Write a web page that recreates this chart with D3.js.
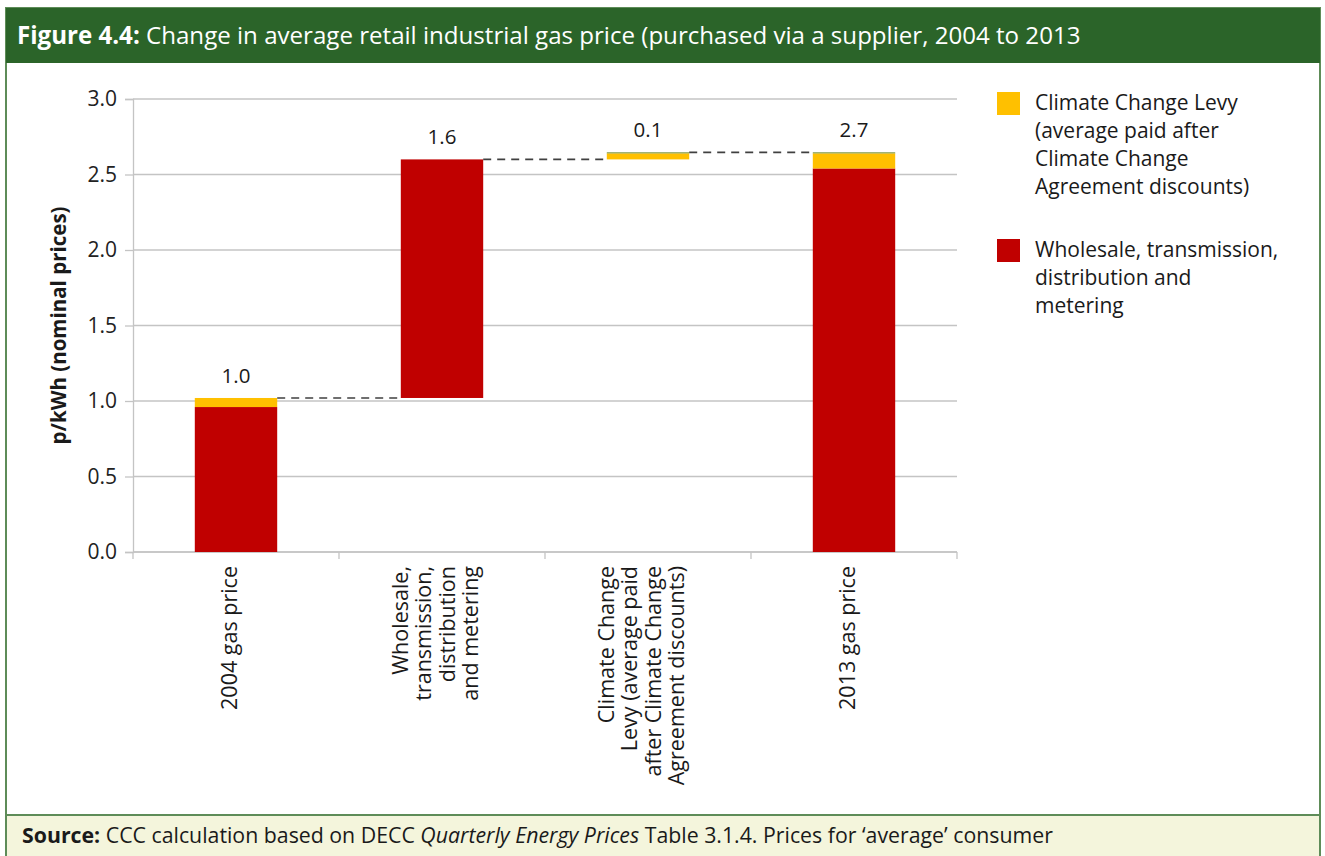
<!DOCTYPE html>
<html>
<head>
<meta charset="utf-8">
<script src="https://cdn.jsdelivr.net/npm/d3@7"></script>
<style>
  body { margin: 0; background: #fff; }
  svg { display: block; font-family: "Open Sans", "Noto Sans", sans-serif; }
</style>
</head>
<body>
<div class="chart"></div>
<script>
// 数据
var categories = ['2004 gas price', 'Wholesale, transmission, distribution and metering',
  'Climate Change Levy (average paid after Climate Change Agreement discounts)', '2013 gas price'];
var categoryLines = [
  ['2004 gas price'],
  ['Wholesale,', 'transmission,', 'distribution', 'and metering'],
  ['Climate Change', 'Levy (average paid', 'after Climate Change', 'Agreement discounts)'],
  ['2013 gas price']
];
var baseValues = [0, 1.02, 2.60, 0];        // invisible waterfall base
var wholesaleValues = [0.96, 1.58, 0, 2.54];
var levyValues = [0.06, 0, 0.04, 0.10];
var otherValues = [0, 0, 0.007, 0.007];     // thin green sliver on top
var barLabels = ['1.0', '1.6', '0.1', '2.7'];
var yTicks = [0, 0.5, 1.0, 1.5, 2.0, 2.5, 3.0];
var legendItems = [
  { name: 'levy', color: '#ffc000', lines: ['Climate Change Levy', '(average paid after', 'Climate Change', 'Agreement discounts)'] },
  { name: 'wholesale', color: '#c00000', lines: ['Wholesale, transmission,', 'distribution and', 'metering'] }
];

var width = 1325, height = 856;
var plotLeft = 133, plotRight = 957, plotTop = 99, plotBottom = 552;

var svg = d3.select('.chart').append('svg').attr('width', width).attr('height', height);

// 外框 + 标题栏
svg.append('rect').attr('x', 6).attr('y', 8).attr('width', 1314).attr('height', 850)
  .attr('fill', '#fff').attr('stroke', '#5e8c58').attr('stroke-width', 2);
svg.append('rect').attr('x', 6).attr('y', 8).attr('width', 1314).attr('height', 55).attr('fill', '#2b6429');
var title = svg.append('text').attr('x', 17).attr('y', 44).attr('fill', '#fff').attr('font-size', 24.1);
title.append('tspan').attr('font-weight', 'bold').text('Figure 4.4:');
title.append('tspan').text(' Change in average retail industrial gas price (purchased via a supplier, 2004 to 2013');

// 底部来源栏
svg.append('rect').attr('x', 6).attr('y', 815).attr('width', 1314).attr('height', 45)
  .attr('fill', '#f4f5dc').attr('stroke', '#5e8c58').attr('stroke-width', 2);
var src = svg.append('text').attr('x', 22).attr('y', 843).attr('fill', '#1a1a1a').attr('font-size', 21.3);
src.append('tspan').attr('font-weight', 'bold').text('Source:');
src.append('tspan').text(' CCC calculation based on DECC ');
src.append('tspan').attr('font-style', 'italic').text('Quarterly Energy Prices');
src.append('tspan').text(' Table 3.1.4. Prices for \u2018average\u2019 consumer');

// 比例尺
var x = d3.scaleBand().domain(categories).range([plotLeft, plotRight]).paddingInner(0.6).paddingOuter(0.3);
var xBand = d3.scaleBand().domain(categories).range([plotLeft, plotRight]);
var y = d3.scaleLinear().domain([0, 3]).range([plotBottom, plotTop]);

// 网格线
svg.append('g').selectAll('line').data(yTicks).enter().append('line')
  .attr('x1', plotLeft).attr('x2', plotRight)
  .attr('y1', d => y(d)).attr('y2', d => y(d))
  .attr('stroke', '#c4c4c4').attr('stroke-width', 1.3);

// y 轴
var yAxis = svg.append('g').attr('transform', `translate(${plotLeft},0)`)
  .call(d3.axisLeft(y).tickValues(yTicks).tickFormat(d3.format('.1f')).tickSize(8).tickPadding(8));
yAxis.select('.domain').attr('stroke', '#c4c4c4').attr('stroke-width', 1.3);
yAxis.selectAll('.tick line').attr('stroke', '#c4c4c4').attr('stroke-width', 1.3);
yAxis.selectAll('.tick text').attr('font-size', 21).attr('fill', '#222')
  .attr('font-family', '"Open Sans", sans-serif');

// x 轴
svg.append('line').attr('x1', plotLeft).attr('x2', plotRight).attr('y1', plotBottom).attr('y2', plotBottom)
  .attr('stroke', '#c4c4c4').attr('stroke-width', 1.3);
svg.append('g').selectAll('line').data(categories.concat(['end'])).enter().append('line')
  .attr('x1', (d, i) => i < categories.length ? xBand(d) : plotRight)
  .attr('x2', (d, i) => i < categories.length ? xBand(d) : plotRight)
  .attr('y1', plotBottom).attr('y2', plotBottom + 7)
  .attr('stroke', '#c4c4c4').attr('stroke-width', 1.3);

// x 轴标签 (旋转)
var xLab = svg.append('g').selectAll('g').data(categories).enter().append('g')
  .attr('transform', d => `translate(${xBand(d) + xBand.bandwidth() / 2},566) rotate(-90)`);
xLab.each(function (d, i) {
  var lines = categoryLines[i];
  var lh = 23.5;
  var t = d3.select(this).append('text').attr('text-anchor', 'end').attr('font-size', 21.5).attr('fill', '#1a1a1a');
  lines.forEach(function (ln, j) {
    t.append('tspan').attr('x', 0)
      .attr('y', (j - (lines.length - 1) / 2) * lh + 1).text(ln);
  });
});

// 堆叠柱
var table = categories.map((c, i) => ({
  cat: c, base: baseValues[i], wholesale: wholesaleValues[i], levy: levyValues[i], other: otherValues[i]
}));
var keys = ['base', 'wholesale', 'levy', 'other'];
var colors = { base: 'none', wholesale: '#c00000', levy: '#ffc000', other: '#77933c' };
var stacked = d3.stack().keys(keys)(table);

svg.append('g').selectAll('g').data(stacked).enter().append('g')
  .attr('fill', d => colors[d.key])
  .selectAll('rect').data(d => d).enter().append('rect')
  .attr('x', d => x(d.data.cat))
  .attr('width', x.bandwidth())
  .attr('y', d => y(d[1]))
  .attr('height', d => Math.max(0, y(d[0]) - y(d[1])));

// 连接虚线
var totals = table.map(d => d.base + d.wholesale + d.levy + d.other);
var connectors = categories.slice(0, -1).map((c, i) => ({ from: c, to: categories[i + 1], v: totals[i] }));
svg.append('g').selectAll('line').data(connectors).enter().append('line')
  .attr('x1', d => x(d.from) + x.bandwidth()).attr('x2', d => x(d.to))
  .attr('y1', d => y(d.v)).attr('y2', d => y(d.v))
  .attr('stroke', '#404040').attr('stroke-width', 1.7).attr('stroke-dasharray', '8,6');

// 数据标签
svg.append('g').selectAll('text').data(table).enter().append('text')
  .attr('x', d => x(d.cat) + x.bandwidth() / 2)
  .attr('y', (d, i) => y(totals[i]) - 15)
  .attr('text-anchor', 'middle').attr('font-size', 20.5).attr('fill', '#1a1a1a')
  .text((d, i) => barLabels[i]);

// y 轴标题
svg.append('text').attr('transform', `translate(66,${(plotTop + plotBottom) / 2}) rotate(-90)`)
  .attr('text-anchor', 'middle').attr('font-size', 20.5).attr('font-weight', 'bold').attr('fill', '#1a1a1a')
  .text('p/kWh (nominal prices)');

// 图例
var legY = [92, 239];
var leg = svg.append('g').selectAll('g').data(legendItems).enter().append('g')
  .attr('transform', (d, i) => `translate(997,${legY[i]})`);
leg.append('rect').attr('width', 23).attr('height', 23).attr('fill', d => d.color);
leg.append('text').attr('font-size', 21).attr('fill', '#1a1a1a')
  .each(function (d) {
    var t = d3.select(this);
    d.lines.forEach(function (ln, j) {
      t.append('tspan').attr('x', 38).attr('y', 18 + j * 28).text(ln);
    });
  });
</script>
</body>
</html>
